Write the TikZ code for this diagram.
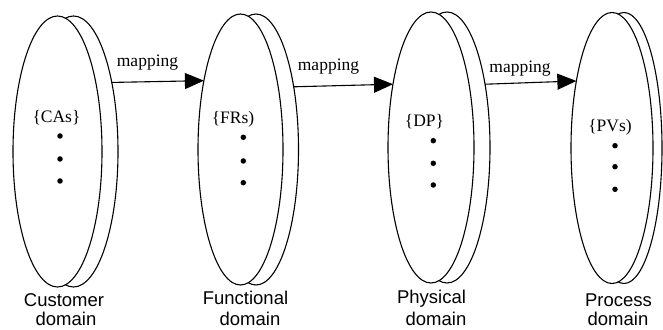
\documentclass[tikz,border=0pt]{standalone}
\usepackage{fontspec}
\setmainfont{Liberation Serif}
\setsansfont{Liberation Sans}
\usetikzlibrary{arrows.meta,shapes.geometric}
\begin{document}
\begin{tikzpicture}[x=1pt,y=1pt,
 disk/.style={ellipse,draw,line width=1.1pt,fill=white,inner sep=0pt,outer sep=0pt,minimum height=271pt},
 dotmark/.style={circle,fill,inner sep=0pt,minimum size=5.5pt},
 settext/.style={font=\fontsize{17.5}{20}\selectfont,inner sep=0pt,anchor=base},
 domlabel/.style={font=\sffamily\fontsize{18.5}{21}\selectfont,inner sep=0pt,anchor=base},
 maparrow/.style={-{Triangle[length=19pt,width=16pt]},line width=1.1pt}]
\useasboundingbox (0,0) rectangle (663,329);
% disks
\node[disk,minimum width=89pt] (b1) at (73.5,177.5) {};
\node[disk,minimum width=89pt] (f1) at (57.5,177.5) {};
\node[disk,minimum width=85pt] (b2) at (256,179.5) {};
\node[disk,minimum width=85pt] (f2) at (240.5,179.5) {};
\node[disk,minimum width=86pt] (b3) at (447,181.5) {};
\node[disk,minimum width=86pt] (f3) at (431,181.5) {};
\node[disk,minimum width=76pt] (b4) at (624,181) {};
\node[disk,minimum width=82pt] (f4) at (612,181) {};
% set texts
\node[settext] (t1) at (56.5,206) {\{CAs\}};
\node[settext] (t2) at (233,205) {\{FRs)};
\node[settext] (t3) at (424.5,202.3) {\{DP\}};
\node[settext] (t4) at (610,197.3) {\{PVs)};
% dots
\node[dotmark] (d11) at (60,193) {};
\node[dotmark] (d12) at (60,170) {};
\node[dotmark] (d13) at (60,148) {};
\node[dotmark] (d21) at (243.3,191.7) {};
\node[dotmark] (d22) at (243.3,168) {};
\node[dotmark] (d23) at (243.3,146.3) {};
\node[dotmark] (d31) at (433.3,188.3) {};
\node[dotmark] (d32) at (433.3,165.7) {};
\node[dotmark] (d33) at (433.3,144) {};
\node[dotmark] (d41) at (615,183.3) {};
\node[dotmark] (d42) at (615,162.3) {};
\node[dotmark] (d43) at (615,139.7) {};
% arrows
\draw[maparrow] (b1.61.67) -- (f2.118.16);
\draw[maparrow] (b2.59.44) -- (f3.121.91);
\draw[maparrow] (b3.59.63) -- (f4.118.96);
\node[settext] (m1) at (147.5,262.3) {mapping};
\node[settext] (m2) at (328.5,258.3) {mapping};
\node[settext] (m3) at (520,256.3) {mapping};
% domain labels
\node[domlabel] (l1a) at (64,23) {Customer};
\node[domlabel] (l1b) at (66,4) {domain};
\node[domlabel] (l2a) at (245.5,24) {Functional};
\node[domlabel] (l2b) at (250,4) {domain};
\node[domlabel] (l3a) at (431.5,26) {Physical};
\node[domlabel] (l3b) at (436,4) {domain};
\node[domlabel] (l4a) at (618.5,23) {Process};
\node[domlabel] (l4b) at (618,4) {domain};
\end{tikzpicture}
\end{document}
